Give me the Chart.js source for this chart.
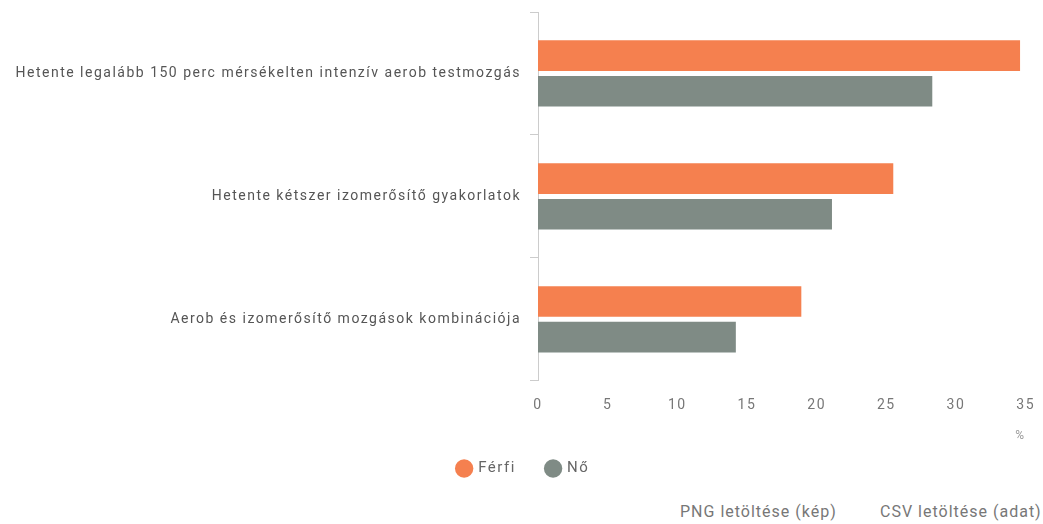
<!DOCTYPE html>
<html>
<head>
<meta charset="utf-8">
<script src="https://cdn.jsdelivr.net/npm/chart.js@4/dist/chart.umd.min.js"></script>
<style>
  html, body { margin: 0; padding: 0; background: #fff; }
  #wrap { position: relative; width: 1043px; height: 490px; }
  #links { position: absolute; top: 502px; left: 0; width: 1043px; height: 22px; font-family: Roboto, sans-serif; font-size: 16px; line-height: 20px; color: #777; letter-spacing: 1px; }
  #links span { position: absolute; top: 0; white-space: nowrap; }
</style>
</head>
<body>
<div id="wrap"><canvas id="c"></canvas></div>
<div id="links"><span style="left:680px">PNG letöltése (kép)</span><span style="left:880px">CSV letöltése (adat)</span></div>
<script>
const categories = [
  "Hetente legalább 150 perc mérsékelten intenzív aerob testmozgás",
  "Hetente kétszer izomerősítő gyakorlatok",
  "Aerob és izomerősítő mozgások kombinációja"
];
const seriesNames = ["Férfi", "Nő"];
const ferfiValues = [34.6, 25.5, 18.9];
const noValues = [28.3, 21.1, 14.2];
const xTicks = [0, 5, 10, 15, 20, 25, 30, 35];
const unitLabel = "%";

const spacingPlugin = {
  id: 'spacing',
  beforeLayout(chart) { chart.ctx.letterSpacing = '1.5px'; },
  afterLayout(chart) {
    if (chart.legend) { chart.legend.left += 10; chart.legend.right += 10; }
  },
  beforeDraw(chart) { chart.ctx.letterSpacing = '1.5px'; }
};

new Chart(document.getElementById('c'), {
  type: 'bar',
  data: {
    labels: categories,
    datasets: [
      { label: seriesNames[0], data: ferfiValues, backgroundColor: '#f5804f', categoryPercentage: 0.58, barPercentage: 0.86 },
      { label: seriesNames[1], data: noValues, backgroundColor: '#7f8b85', categoryPercentage: 0.58, barPercentage: 0.86 }
    ]
  },
  plugins: [spacingPlugin],
  options: {
    indexAxis: 'y',
    responsive: true,
    maintainAspectRatio: false,
    animation: false,
    layout: { padding: { top: 12, right: 16, left: 0, bottom: 4 } },
    plugins: {
      tooltip: { enabled: false },
      legend: {
        position: 'bottom',
        labels: {
          usePointStyle: true, pointStyle: 'circle', boxWidth: 13, boxHeight: 13,
          color: '#666', font: { family: 'Roboto', size: 15 }, padding: 14,
          generateLabels: (chart) => {
            const items = Chart.defaults.plugins.legend.labels.generateLabels(chart);
            items.forEach((it, i) => { if (i < items.length - 1) it.text = it.text + '\u2003'; });
            return items;
          }
        }
      }
    },
    scales: {
      x: {
        min: 0, max: 35,
        afterBuildTicks: (s) => { s.ticks = xTicks.map(v => ({ value: v })); },
        grid: { display: false },
        border: { display: false },
        ticks: { color: '#777', font: { family: 'Roboto', size: 14 }, padding: 8 },
        title: { display: true, text: unitLabel, align: 'end', color: '#999', font: { family: 'Roboto', size: 12 }, padding: { top: 7, bottom: 4 } }
      },
      y: {
        afterFit: (s) => { s.width = 538; s.paddingTop = 0; s.paddingBottom = 0; },
        grid: { display: true, drawOnChartArea: false, tickLength: 8, color: '#ccc', offset: true },
        border: { display: true, color: '#ccc' },
        ticks: { color: '#555', font: { family: 'Roboto', size: 14 }, padding: 9 }
      }
    }
  }
});
</script>
</body>
</html>
